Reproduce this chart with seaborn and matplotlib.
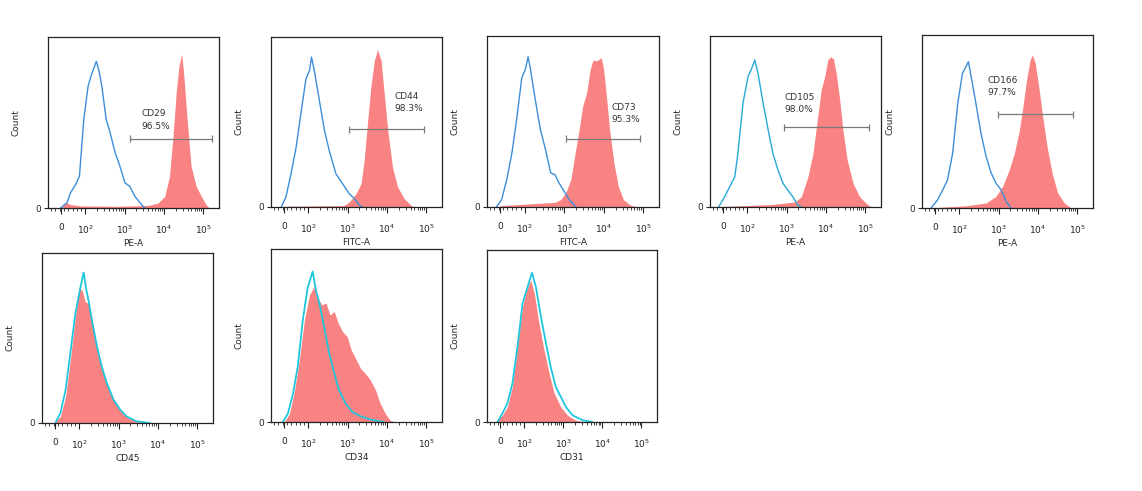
# Flow cytometry overlays: isotype control (outline) vs stained (filled)

import numpy as np
import matplotlib
matplotlib.use("Agg")
import matplotlib.pyplot as plt
import seaborn as sns

# x = position on the biexponential axis in decades (2 -> 10^2, 3 -> 10^3 ...)
# y = event count as % of the panel height
markers = ["CD29", "CD44", "CD73", "CD105", "CD166", "CD45", "CD34", "CD31"]
channels = ["PE-A", "FITC-A", "FITC-A", "PE-A", "PE-A", "CD45", "CD34", "CD31"]
positive = ["96.5%", "98.3%", "95.3%", "98.0%", "97.7%"]
gate_x = [(3.13, 5.22), (3.04, 4.93), (3.04, 4.91), (2.92, 5.09), (2.99, 4.88)]
gate_y = [40.5, 45.7, 40.0, 46.5, 54.2]
label_x = [3.43, 4.19, 4.20, 2.95, 2.72]
label_y = [55.0, 65.0, 58.4, 64.3, 73.7]

tick_pos = [1.38, 2, 3, 4, 5]
tick_labels = ["0", "$10^2$", "$10^3$", "$10^4$", "$10^5$"]

cd29_iso = [(1.37, 0), (1.54, 3.3), (1.62, 8.8), (1.75, 13.6), (1.85, 18.5), (1.96, 51.7),
            (2.07, 71.2), (2.15, 77.6), (2.28, 85.8), (2.35, 79.9), (2.42, 71.2), (2.53, 51.7),
            (2.61, 45.8), (2.76, 32.2), (2.88, 24.4), (3.01, 14.6), (3.13, 12.7), (3.26, 6.8),
            (3.43, 2.0), (3.51, 0)]
cd29_pos = [(1.38, 0), (1.50, 3.3), (1.62, 2.0), (1.9, 1.2), (2.8, 1.0), (3.6, 1.5), (3.85, 2.9),
            (4.02, 6.8), (4.14, 18.5), (4.23, 41.9), (4.31, 67.3), (4.38, 82.8), (4.45, 90.0),
            (4.50, 79.0), (4.59, 51.7), (4.69, 24.4), (4.82, 12.7), (4.95, 6.8), (5.07, 2.0),
            (5.15, 0)]

cd44_iso = [(1.31, 0), (1.43, 5.9), (1.56, 19.6), (1.69, 35.3), (1.81, 54.9), (1.94, 75.5),
            (2.03, 80.4), (2.08, 88.2), (2.15, 80.4), (2.28, 62.7), (2.41, 45.1), (2.53, 33.3),
            (2.70, 19.6), (2.87, 13.7), (3.04, 7.8), (3.17, 4.9), (3.30, 1.0), (3.38, 0)]
cd44_pos = [(1.35, 0), (1.5, 0.5), (2.9, 0.8), (3.04, 2.9), (3.21, 7.8), (3.34, 13.7),
            (3.42, 27.5), (3.51, 51.0), (3.59, 70.6), (3.68, 86.3), (3.76, 92.5), (3.85, 86.3),
            (3.93, 66.7), (4.02, 45.1), (4.14, 23.5), (4.27, 11.8), (4.44, 4.9), (4.61, 1.0),
            (4.69, 0)]

cd73_iso = [(1.29, 0), (1.42, 4.3), (1.55, 16.0), (1.68, 31.6), (1.80, 51.2), (1.93, 75.6),
            (2.02, 80.5), (2.09, 87.9), (2.15, 80.5), (2.27, 62.9), (2.40, 45.3), (2.53, 33.6),
            (2.66, 19.9), (2.77, 18.9), (2.87, 14.1), (3.00, 9.2), (3.13, 4.3), (3.30, 0)]
cd73_pos = [(1.29, 0), (1.42, 0.8), (2.10, 1.8), (2.77, 2.7), (2.91, 4.3), (3.04, 8.2),
            (3.17, 16.0), (3.28, 31.6), (3.38, 45.3), (3.47, 59.0), (3.57, 66.8), (3.66, 80.5),
            (3.73, 85.9), (3.81, 85.4), (3.88, 86.3), (3.94, 87.3), (4.00, 80.5), (4.07, 64.8),
            (4.15, 45.3), (4.26, 25.8), (4.37, 12.1), (4.50, 4.3), (4.67, 1.2), (4.84, 0)]

cd105_iso = [(1.27, 0), (1.42, 5.9), (1.55, 11.8), (1.68, 17.6), (1.76, 31.4), (1.89, 60.8),
             (2.02, 76.5), (2.10, 80.4), (2.19, 85.9), (2.27, 78.4), (2.40, 60.8), (2.53, 45.1),
             (2.65, 31.4), (2.78, 21.6), (2.91, 13.7), (3.03, 9.8), (3.16, 5.9), (3.29, 1.0),
             (3.37, 0)]
cd105_pos = [(1.30, 0), (1.42, 0.4), (2.60, 1.4), (3.20, 2.9), (3.37, 5.9), (3.54, 17.6),
             (3.67, 31.4), (3.78, 51.0), (3.88, 68.6), (3.97, 76.5), (4.05, 86.3), (4.12, 87.8),
             (4.19, 86.7), (4.26, 78.4), (4.35, 62.7), (4.43, 45.1), (4.54, 27.5), (4.69, 13.7),
             (4.86, 5.9), (5.03, 2.0), (5.15, 0)]

cd166_iso = [(1.28, 0), (1.45, 4.8), (1.58, 10.6), (1.70, 16.3), (1.83, 31.7), (1.96, 60.6),
             (2.08, 77.9), (2.17, 81.7), (2.23, 84.6), (2.30, 76.0), (2.42, 60.6), (2.55, 43.3),
             (2.68, 29.8), (2.81, 20.2), (2.93, 14.4), (3.06, 10.6), (3.19, 3.8), (3.31, 0)]
cd166_pos = [(1.30, 0), (1.50, 0.4), (2.17, 1.3), (2.68, 2.9), (2.93, 6.7), (3.10, 12.5),
             (3.27, 22.1), (3.40, 31.7), (3.53, 45.2), (3.63, 60.6), (3.71, 74.0), (3.80, 85.6),
             (3.86, 88.5), (3.93, 83.7), (4.02, 70.2), (4.12, 52.9), (4.23, 35.6), (4.36, 20.2),
             (4.50, 8.7), (4.67, 2.9), (4.84, 0)]

cd45_iso = [(1.39, 0), (1.52, 5.9), (1.65, 19.5), (1.77, 41.0), (1.90, 64.5), (2.03, 80.1),
            (2.11, 88.5), (2.18, 78.1), (2.24, 71.3), (2.32, 60.5), (2.45, 44.9), (2.57, 33.2),
            (2.70, 23.4), (2.87, 13.7), (3.04, 7.8), (3.20, 3.9), (3.45, 1.0), (3.79, 0)]
cd45_pos = [(1.35, 0), (1.52, 3.9), (1.65, 15.6), (1.77, 37.1), (1.90, 62.5), (2.00, 79.1),
            (2.07, 78.1), (2.15, 71.3), (2.24, 70.3), (2.32, 60.5), (2.45, 44.9), (2.57, 32.2),
            (2.70, 22.5), (2.87, 13.7), (3.04, 7.4), (3.20, 3.5), (3.45, 0.8), (3.79, 0)]

cd34_iso = [(1.35, 0), (1.48, 4.8), (1.61, 16.4), (1.73, 31.9), (1.86, 59.0), (1.98, 77.4),
            (2.11, 87.0), (2.19, 76.4), (2.28, 68.7), (2.40, 55.1), (2.53, 39.7), (2.66, 28.0),
            (2.78, 18.4), (2.95, 10.6), (3.12, 5.8), (3.33, 3.3), (3.58, 1.4), (3.92, 0)]
cd34_pos = [(1.39, 0), (1.52, 4.8), (1.65, 18.4), (1.77, 35.8), (1.90, 59.0), (2.03, 73.5),
            (2.15, 78.3), (2.25, 71.6), (2.34, 67.7), (2.45, 68.7), (2.55, 61.9), (2.66, 63.8),
            (2.76, 57.1), (2.87, 52.2), (2.99, 49.3), (3.09, 41.6), (3.20, 36.8), (3.33, 30.9),
            (3.45, 28.0), (3.58, 24.2), (3.71, 18.4), (3.83, 10.6), (3.96, 4.8), (4.08, 1.0),
            (4.21, 0)]

cd31_iso = [(1.32, 0), (1.44, 4.9), (1.57, 10.7), (1.70, 22.3), (1.83, 43.7), (1.96, 68.9),
            (2.09, 78.6), (2.20, 86.8), (2.30, 78.6), (2.43, 61.2), (2.56, 45.6), (2.68, 32.0),
            (2.81, 20.4), (2.94, 14.6), (3.07, 8.7), (3.24, 3.9), (3.50, 1.0), (3.75, 0)]
cd31_pos = [(1.27, 0), (1.44, 3.9), (1.57, 8.7), (1.70, 20.4), (1.83, 43.7), (1.96, 67.0),
            (2.06, 76.7), (2.17, 82.5), (2.26, 74.8), (2.38, 57.3), (2.51, 41.7), (2.64, 28.2),
            (2.77, 16.5), (2.94, 8.7), (3.11, 3.9), (3.32, 1.0), (3.58, 0)]

iso_curves = [cd29_iso, cd44_iso, cd73_iso, cd105_iso, cd166_iso, cd45_iso, cd34_iso, cd31_iso]
pos_curves = [cd29_pos, cd44_pos, cd73_pos, cd105_pos, cd166_pos, cd45_pos, cd34_pos, cd31_pos]

# panel boxes in pixels: left, right, top, bottom
boxes = [(48, 219, 37, 208), (271, 442, 37, 207), (487, 659, 36, 207), (710, 881, 36, 207),
         (922, 1093, 35, 208), (42, 213, 253, 423), (271, 442, 249, 422), (487, 657, 250, 422)]
iso_colors = ["#3d8ed8", "#3d8ed8", "#3d8ed8", "#26a9d6", "#3d8ed8", "#1fc6dc", "#1fc6dc", "#1fc6dc"]
red = "#f97474"

sns.set_style("white")
plt.rcParams['font.family'] = ['DejaVu Sans']

W, H = 1142, 491
fig = plt.figure(figsize=(W / 100, H / 100), dpi=100)

minor = [np.log10(k * 10 ** d) for d in (2, 3, 4) for k in range(2, 10)]
minor += list(np.linspace(1.12, 1.9, 8))

for i in range(8):
    l, r, t, b = boxes[i]
    ax = fig.add_axes([l / W, 1 - b / H, (r - l) / W, (b - t) / H])

    iso = np.array(iso_curves[i])
    pos = np.array(pos_curves[i])

    lw = 1.0 if i < 5 else 1.3
    sns.lineplot(x=iso[:, 0], y=iso[:, 1], ax=ax, color=iso_colors[i], lw=lw,
                 estimator=None, sort=False)
    ax.fill_between(pos[:, 0], 0, pos[:, 1], color=red, alpha=0.9, lw=0)

    if i < 5:
        x0, x1 = gate_x[i]
        gy = gate_y[i]
        ax.hlines(gy, x0, x1, color="#7a7a7a", lw=0.9)
        ax.vlines([x0, x1], gy - 2, gy + 2, color="#7a7a7a", lw=0.9)
        ax.text(label_x[i], label_y[i], markers[i], fontsize=6.5, color="#333333", va="center")
        ax.text(label_x[i], label_y[i] - 7.2, positive[i], fontsize=6.5, color="#333333",
                va="center")

    ax.set_xlim(1.05, 5.40)
    ax.set_ylim(0, 100)
    ax.set_xticks(tick_pos)
    ax.set_xticklabels(tick_labels)
    ax.set_xticks(minor, minor=True)
    ax.set_yticks([0])
    ax.set_yticklabels(["0"])
    ax.tick_params(axis="x", which="major", direction="out", length=4, width=0.8,
                   labelsize=6.5, pad=7, bottom=True, colors="#222222")
    ax.tick_params(axis="x", which="minor", direction="out", length=2.5, width=0.6,
                   bottom=True, colors="#222222")
    ax.tick_params(axis="y", direction="out", length=3, width=0.8, labelsize=6.5,
                   left=True, pad=2)
    for s in ax.spines.values():
        s.set_color("#222222")
        s.set_linewidth(0.9)

    ax.set_xlabel(channels[i], fontsize=6.5)
    ax.xaxis.set_label_coords(0.5, -0.18)
    ax.set_ylabel("Count", fontsize=6.5)
    ax.yaxis.set_label_coords(-0.16, 0.5)

plt.savefig("out.png", dpi=100, facecolor="white")
